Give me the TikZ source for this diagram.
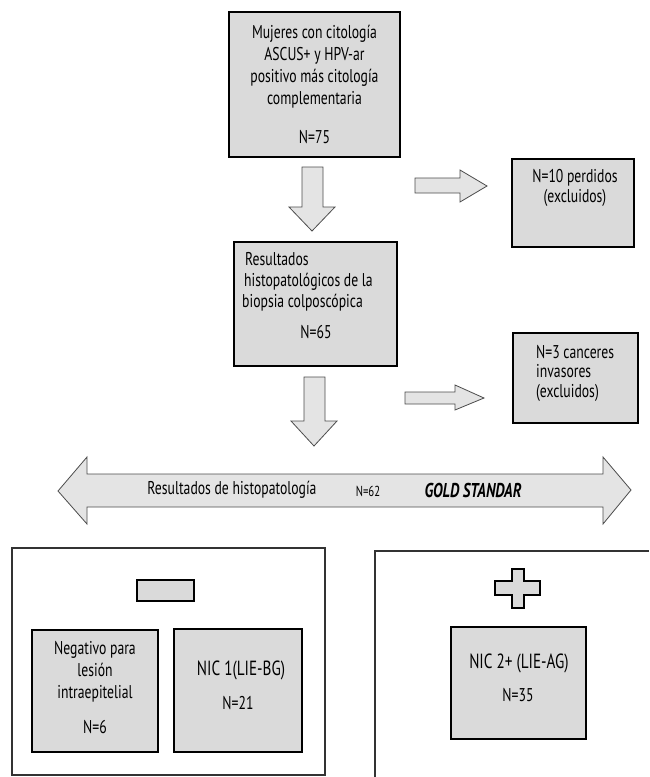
\documentclass[tikz,border=0pt]{standalone}
\usepackage{fontspec}
\setmainfont{PT Sans}[FakeStretch=0.74]
\tikzset{
	box/.style={draw=black, line width=2pt, fill=boxgray, inner sep=0pt},
	outerbox/.style={draw=black!80, line width=1.5pt},
	blockarrow/.style={draw=black!70, line width=0.8pt, fill=arrowgray, line join=miter},
	txt/.style={align=center, font=\fontsize{18.5}{22}\selectfont, inner sep=0pt},
	ltxt/.style={align=left, font=\fontsize{18.5}{21}\selectfont, inner sep=0pt, anchor=west}
}
\definecolor{boxgray}{HTML}{DADADA}
\definecolor{arrowgray}{HTML}{E4E4E4}
\begin{document}
\begin{tikzpicture}[x=1pt, y=-1pt]
	\useasboundingbox (0,0) rectangle (649,777);

	% main boxes
	\node[box, minimum width=171pt, minimum height=145pt] (mujeres)  at (314.5,84.5) {};
	\node[box, minimum width=163pt, minimum height=124pt] (biopsia)  at (315.5,304)  {};
	\node[box, minimum width=122pt, minimum height=88pt]  (perdidos) at (573,203)    {};
	\node[box, minimum width=125pt, minimum height=90pt]  (cancer)   at (575.5,378)  {};

	\node[txt] (mujerestxt) at (314.5,67) {Mujeres con citología\\ASCUS+ y HPV-ar\\positivo más citología\\complementaria};
	\node[txt] (mujeresn)   at (314.5,137) {N=75};
	\node[ltxt] (biopsiatxt) at (242,282) {\hspace*{3pt}Resultados\\\hspace*{2pt}histopatológicos de la\\biopsia colposcópica};
	\node[txt] (biopsian)   at (316,332) {N=65};
	\node[txt, font=\fontsize{18.5}{20}\selectfont] (perdidostxt) at (575,188) {N=10 perdidos\\(excluidos)};
	\node[ltxt, font=\fontsize{18.5}{19.5}\selectfont] (cancertxt) at (536,373) {N=3 canceres\\invasores\\(excluidos)};

	% block arrows
	\draw[blockarrow] (302,167) -- (323,167) -- (323,207) -- (335,207) -- (312,231)
		-- (289,207) -- (302,207) -- cycle;
	\draw[blockarrow] (304,377) -- (325,377) -- (325,421) -- (337,421) -- (314,446)
		-- (291,421) -- (304,421) -- cycle;
	\draw[blockarrow] (415,178) -- (460,178) -- (460,170) -- (487,186) -- (460,202)
		-- (460,193) -- (415,193) -- cycle;
	\draw[blockarrow] (405,392) -- (455,392) -- (455,385) -- (484,398) -- (455,410)
		-- (455,404) -- (405,404) -- cycle;

	% gold standard
	\draw[blockarrow] (58,491) -- (87,457) -- (87,474) -- (603,474) -- (603,457) -- (631,490)
		-- (603,524) -- (603,507) -- (87,507) -- (87,524) -- cycle;
	\node[txt] (histo) at (232,490) {Resultados de histopatología};
	\node[txt, font=\fontsize{14.5}{16}\selectfont] (histon) at (368,491) {N=62};
	\node[txt, font=\fontsize{20}{22}\selectfont\bfseries\itshape] (gold) at (473,490) {GOLD STANDAR};

	% negative results
	\draw[outerbox] (12,548) rectangle (325,775);
	\node[box, minimum width=57pt, minimum height=21pt] (menos) at (165.5,590.5) {};
	\node[box, minimum width=126pt, minimum height=122pt] (negativo) at (95,691) {};
	\node[box, minimum width=128pt, minimum height=123pt] (nicuno)   at (238,690.5) {};
	\node[txt] (negativotxt) at (95,672) {Negativo para\\lesión\\intraepitelial};
	\node[txt] (negativon)   at (95,727) {N=6};
	\node[txt, font=\fontsize{20.5}{22}\selectfont] (nicunotxt) at (241,670) {NIC 1(LIE-BG)};
	\node[txt] (nicunon)     at (238,703) {N=21};

	% positive results
	\draw[outerbox] (375,777) -- (375,551) -- (649,551);
	\draw[box] (512,569) -- (524,569) -- (524,581) -- (540,581) -- (540,595) -- (524,595)
		-- (524,608) -- (512,608) -- (512,595) -- (495,595) -- (495,581) -- (512,581) -- cycle;
	\node[box, minimum width=135pt, minimum height=112pt] (nicdos) at (518.5,683) {};
	\node[txt, font=\fontsize{20.5}{22}\selectfont] (nicdostxt) at (519,663) {NIC 2+ (LIE-AG)};
	\node[txt] (nicdosn)     at (518,695) {N=35};
\end{tikzpicture}
\end{document}
